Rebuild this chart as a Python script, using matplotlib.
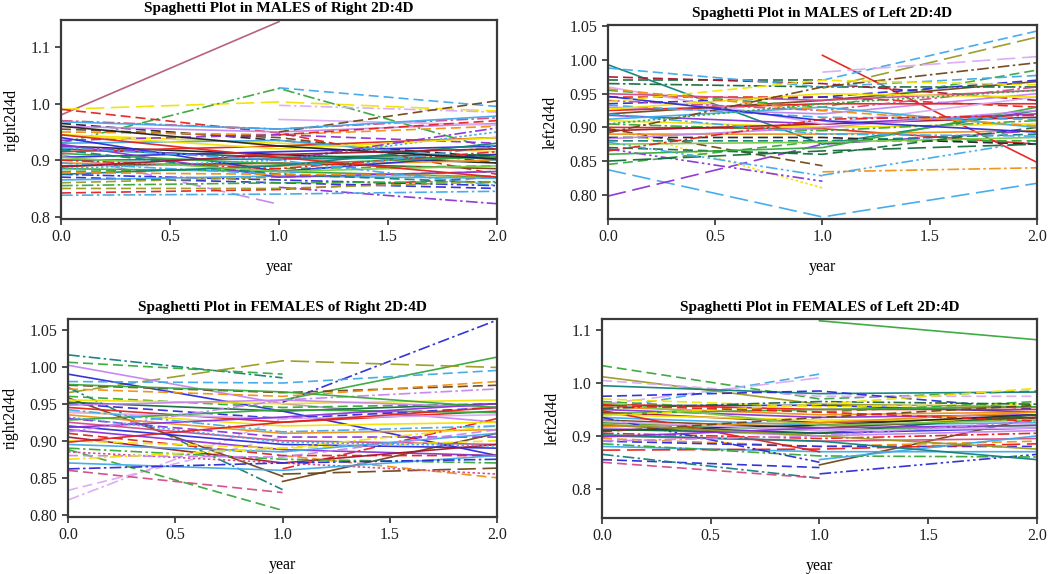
import numpy as np
import matplotlib
matplotlib.use("Agg")
import matplotlib.pyplot as plt

nan = np.nan
years = [0.0, 1.0, 2.0]

# ---- MALES, Right 2D:4D ----
mr_y0 = [0.980, 0.990, 0.930, nan, 0.990, 0.910, nan, 0.842, 0.838, 0.965, 0.955, 0.925, 0.920, 0.900,
         0.885, 0.875, 0.870, 0.865, 0.860, 0.855, 0.945, 0.950, 0.960, 0.970, 0.935, 0.915, 0.905, 0.895,
         0.890, 0.880, 0.930, nan, nan, nan, nan, 0.940, 0.928, 0.912, 0.900, 0.895, 0.885, 0.875, 0.918,
         0.945, 0.960, 0.878, 0.925, 0.905, 0.968, 0.888, 0.945, 0.922, 0.850]
mr_y1 = [1.145, 1.003, 1.027, 1.028, 0.948, 0.822, 0.852, 0.848, 0.840, 0.935, 0.940, 0.910, 0.905, 0.902,
         0.880, 0.865, 0.860, 0.872, 0.870, 0.860, 0.930, 0.945, 0.950, 0.955, 0.945, 0.925, 0.915, 0.890,
         0.895, 0.885, 0.935, 0.972, 0.997, 0.950, 0.945, 0.880, 0.870, 0.893, 0.885, 0.875, 0.900, 0.890,
         0.875, 0.920, 0.925, 0.875, 0.900, 0.880, 0.955, 0.910, 0.905, 0.900, 0.850]
mr_y2 = [nan, 0.987, 0.918, 0.995, 0.875, nan, 0.823, 0.870, 0.845, 0.905, 0.895, 0.895, 0.910, 0.905,
         0.870, 0.855, 0.850, 0.868, 0.880, 0.862, 0.915, 0.960, 0.965, 0.975, 0.930, 0.940, 0.925, 0.900,
         0.885, 0.890, 0.900, 0.962, 0.985, 1.005, 0.970, 0.910, 0.880, 0.906, 0.915, 0.925, 0.950, 0.930,
         0.860, 0.940, 0.902, 0.872, 0.957, 0.890, 0.978, 0.920, 0.870, 0.855, 0.862]
mr_col = ['m', 'y', 'g', 'lb', 'r', 'v', 'p', 'r', 'lb', 'k', 'br', 'k', 'dg', 'te',
          'g', 'b', 'b', 'lb', 'ol', 'g', 'y', 'o', 'v', 'pk', 'p', 'r', 'b', 'o',
          'br', 'g', 'lb', 'lv', 'lv', 'br', 'r', 'b', 'p', 'g', 'r', 'lb', 'lb', 'te', 'te',
          'y', 'k', 'o', 'p', 'lg', 'lb', 'dr', 'r', 'lb', 'ol']
mr_ls = ['-', 'ld', 'dd', 'd', 'd', 'ld', 'dd', 'd', 'dd', 'd', 'd', '-', '-', '-',
         '-', 'dd', 'd', '-', 'd', 'dd', '-', 'd', '-', 'dd', 'd', '-', '-', '-',
         '-', 'd', '-', '-', 'dd', 'd', 'd', '-', '-', '-', 'dd', 'dd', ':', '-', 'd',
         '-', '-', 'd', 'dd', '-', '-', '-', '-', 'dd', 'd']

# ---- MALES, Left 2D:4D ----
ml_y0 = [0.837, 0.798, nan, nan, nan, nan, nan, nan, 0.900, 0.868, 0.898, 0.970, 0.993, 0.920, 0.900,
         0.845, 0.965, 0.975, 0.955, 0.945, 0.935, 0.930, 0.925, 0.918, 0.910, 0.905, 0.895, 0.890, 0.885,
         0.880, 0.875, 0.870, 0.860, 0.850, 0.960, 0.950, 0.940, 0.933, 0.927, 0.912, 0.988, 0.883, 0.892,
         0.957, 0.946, 0.920, 0.878, 0.905, 0.865, 0.938]
ml_y1 = [0.767, 0.875, 1.007, 0.970, 0.958, 0.982, 0.834, 0.829, 0.810, 0.820, 0.843, 0.970, 0.875, 0.940,
         0.898, 0.880, 0.960, 0.965, 0.930, 0.945, 0.945, 0.920, 0.935, 0.905, 0.900, 0.895, 0.905, 0.890,
         0.885, 0.880, 0.878, 0.860, 0.870, 0.865, 0.905, 0.940, 0.925, 0.915, 0.950, 0.930, 0.960, 0.900,
         0.960, 0.925, 0.910, 0.890, 0.828, 0.935, 0.912, 0.970]
ml_y2 = [0.817, 0.895, 0.848, 1.043, 1.034, 1.005, 0.840, 0.880, nan, nan, nan, nan, 0.925, 0.968,
         0.875, 0.880, 0.960, 0.940, 0.985, 0.930, 0.970, 0.950, 0.935, 0.920, 0.905, 0.910, 0.915, 0.895,
         0.875, 0.890, 0.885, 0.900, 0.930, 0.875, 0.945, 0.955, 0.960, 0.912, 0.945, 0.900, 0.977, 0.925,
         0.996, 0.902, 0.893, 0.887, nan, 0.955, 0.918, 0.963]
ml_col = ['lb', 'p', 'r', 'lb', 'ol', 'lv', 'o', 'lb', 'y', 'p', 'br', 'dg', 'te', 'br',
          'r', 'g', 'dg', 'dr', 'g', 'r', 'b', 'v', 'r', 'p', 'y', 'g', 'dr', 'o',
          'k', 'te', 'lg', 'dg', 'g', 'dg', 'lv', 'pk', 'pk', 'lb', 'y', 'lb', 'lb', 'v',
          'br', 'o', 'b', 'lb', 'lb', 'g', 'r', 'y']
ml_ls = ['ld', 'ld', '-', 'd', 'ld', 'ld', 'dd', 'ddd', ':', 'ddd', 'd', 'd', '-', '-',
         '-', 'd', 'dd', 'd', 'd', 'd', 'd', '-', '-', '-', '-', 'dd', '-', '-',
         'd', 'd', '-', 'd', '-', 'ld', '-', '-', 'dd', 'd', '-', '-', 'd', '-',
         'dd', 'd', '-', 'dd', 'ddd', ':', 'dd', 'd']

# ---- FEMALES, Right 2D:4D ----
fr_y0 = [nan, nan, 1.016, 1.006, 0.965, 1.002, 0.820, 0.833, 0.888, 0.860, 0.972, 0.958, nan, 0.990,
         nan, nan, nan, 0.980, 0.975, 0.970, 0.960, 0.955, 0.950, 0.945, 0.940, 0.935, 0.930, 0.925,
         0.920, 0.915, 0.910, 0.905, 0.900, 0.895, 0.890, 0.885, 0.880, 0.875, 0.870, 0.862, 0.952,
         0.948, 0.938, 0.928, 0.918, 0.912, 0.942, 0.932, 0.898, 0.976]
fr_y1 = [0.952, 0.955, 0.985, 0.990, 1.008, 0.950, 0.930, 0.905, 0.806, 0.830, 0.834, 0.852, 0.845, 0.940,
         0.855, 0.880, 0.862, 0.978, 0.965, 0.960, 0.945, 0.950, 0.930, 0.925, 0.920, 0.910, 0.905, 0.900,
         0.895, 0.888, 0.880, 0.870, 0.890, 0.885, 0.875, 0.870, 0.878, 0.890, 0.860, 0.870, 0.940,
         0.955, 0.930, 0.942, 0.932, 0.955, 0.912, 0.898, 0.925, 0.966]
fr_y2 = [1.063, 1.013, nan, nan, 0.999, 0.925, nan, nan, nan, nan, nan, nan, 0.910, 0.880,
         0.863, 0.850, 0.930, 0.995, 0.975, 0.980, 0.950, 0.955, 0.945, 0.940, 0.925, 0.915, 0.905, 0.895,
         0.890, 0.880, 0.880, 0.895, 0.900, 0.910, 0.870, 0.855, 0.915, 0.920, 0.880, 0.875, 0.950,
         0.945, 0.935, 0.938, 0.950, 0.970, 0.920, 0.893, 0.945, 0.945]
fr_col = ['b', 'g', 'te', 'g', 'ol', 'v', 'lv', 'lv', 'g', 'pk', 'te', 'br', 'br', 'b',
          'br', 'o', 'r', 'lb', 'br', 'o', 'g', 'y', 'b', 'r', 'y', 'o', 'p', 'pk',
          'b', 'p', 'r', 'dr', 'y', 'lb', 'g', 'pk', 'v', 'y', 'lb', 'b', 'dg',
          'v', 'lv', 'g', 'p', 'v', 'lb', 'lb', 'r', 'g']
fr_ls = ['dd', '-', 'dd', 'd', 'ld', '-', 'dd', 'd', 'd', 'd', 'dd', '-', '-', '-',
         'ld', 'd', 'dd', 'd', 'd', 'd', 'd', '-', 'd', '-', '-', '-', 'd', '-',
         '-', '-', 'd', '-', 'd', '-', 'dd', ':', 'd', 'dd', '-', 'dd', '-',
         '-', '-', '-', '-', 'dd', 'dd', ':', '-', '-']

# ---- FEMALES, Left 2D:4D ----
fl_y0 = [nan, 1.033, 0.950, 0.960, nan, nan, 0.855, 0.865, 0.850, 1.012, 1.005, 0.995, 0.957, 0.975,
         0.970, 0.965, 0.960, 0.955, 0.950, 0.945, 0.940, 0.935, 0.930, 0.925, 0.920, 0.915, 0.910,
         0.905, 0.900, 0.895, 0.890, 0.880, 0.873, 0.885, 0.948, 0.935, nan, 0.912, 0.918, 0.928, 0.942,
         0.952, 0.938, 0.908, 0.898, 0.963, 0.922, 0.902, 0.890, 0.958]
fl_y1 = [1.118, 0.970, 1.017, 1.010, 0.845, 0.828, 0.840, 0.820, 0.820, 0.960, 0.975, 0.980, 0.958, 0.985,
         0.955, 0.945, 0.950, 0.940, 0.935, 0.925, 0.930, 0.920, 0.915, 0.910, 0.905, 0.900, 0.920,
         0.895, 0.890, 0.880, 0.880, 0.870, 0.875, 0.862, 0.870, 0.850, 0.855, 0.905, 0.925, 0.910, 0.950,
         0.965, 0.960, 0.935, 0.915, 0.920, 0.900, 0.890, 0.900, 0.945]
fl_y2 = [1.082, 0.985, nan, nan, 0.935, 0.865, nan, nan, nan, 0.955, 0.975, 0.983, 0.945, 0.950,
         0.960, 0.965, 0.950, 0.945, 0.940, 0.935, 0.930, 0.925, 0.935, 0.920, 0.915, 0.910, 0.940,
         0.905, 0.895, 0.890, 0.880, 0.870, 0.885, 0.860, nan, nan, 0.900, 0.940, 0.945, 0.915, 0.955,
         0.960, 0.990, 0.958, 0.920, 0.930, 0.875, 0.855, 0.928, 0.928]
fl_col = ['g', 'g', 'lb', 'lv', 'br', 'b', 'b', 'te', 'pk', 'ol', 'lv', 'te', 'b', 'b',
          'y', 'g', 'r', 'o', 'p', 'dr', 'y', 'lb', 'br', 'g', 'b', 'v', 'k',
          'r', 'pk', 'o', 'b', 'lb', 'r', 'g', 'r', 'b', 'lb', 'dg', 'o', 'lv', 'g',
          'dg', 'y', 'br', 'p', 'lg', 'ol', 'te', 'v', 'r']
fl_ls = ['-', 'd', 'd', 'ld', '-', 'ddd', 'd', 'dd', 'd', '-', 'd', '-', '-', 'd',
         'd', 'd', '-', '-', '-', '-', '-', '-', '-', '-', '-', '-', '-',
         'dd', '-', 'd', 'd', '-', 'ld', 'dd', '-', 'ddd', '-', '-', '-', '-', '-',
         'dd', 'd', 'd', '-', '-', '-', '-', 'dd', 'd']

PALETTE = {'r': '#e3211c', 'g': '#35a83a', 'b': '#2a2ad8', 'lb': '#3fa9ea', 'y': '#f2e200',
           'o': '#f09010', 'p': '#8a30d8', 'v': '#c484f0', 'lv': '#d9aaf6', 'br': '#6e4518',
           'dr': '#a8142a', 'te': '#12807a', 'dg': '#146a3a', 'ol': '#9a9a22', 'pk': '#d24a86',
           'k': '#222222', 'm': '#b45a78', 'lg': '#7ccb48'}
DASH = {'-': '-', 'd': (0, (6, 3)), 'ld': (0, (11, 4)), 'dd': (0, (7, 2, 1.5, 2)),
        'ddd': (0, (7, 2, 1.5, 2, 1.5, 2)), ':': (0, (1.5, 1.5))}

plt.rcParams['font.family'] = ['Liberation Serif', 'DejaVu Serif']

fig = plt.figure(figsize=(10.5, 5.74), dpi=100)

panels = [
    ("Spaghetti Plot in MALES of Right 2D:4D", "right2d4d", mr_y0, mr_y1, mr_y2, mr_col, mr_ls,
     [0.0581, 0.6185, 0.4152, 0.3467], (0.796, 1.148), [0.8, 0.9, 1.0, 1.1], '%.1f'),
    ("Spaghetti Plot in MALES of Left 2D:4D", "left2d4d", ml_y0, ml_y1, ml_y2, ml_col, ml_ls,
     [0.579, 0.6185, 0.4086, 0.338], (0.764, 1.052), [0.80, 0.85, 0.90, 0.95, 1.00, 1.05], '%.2f'),
    ("Spaghetti Plot in FEMALES of Right 2D:4D", "right2d4d", fr_y0, fr_y1, fr_y2, fr_col, fr_ls,
     [0.0648, 0.0993, 0.4086, 0.345], (0.797, 1.0645), [0.80, 0.85, 0.90, 0.95, 1.00, 1.05], '%.2f'),
    ("Spaghetti Plot in FEMALES of Left 2D:4D", "left2d4d", fl_y0, fl_y1, fl_y2, fl_col, fl_ls,
     [0.5733, 0.0976, 0.4143, 0.3467], (0.7445, 1.1214), [0.8, 0.9, 1.0, 1.1], '%.1f'),
]

for title, ylab, y0, y1, y2, cols, lss, rect, ylim, yt, fmt in panels:
    ax = fig.add_axes(rect)
    for i in range(len(y0)):
        ys = [y0[i], y1[i], y2[i]]
        ax.plot(years, ys, color=PALETTE[cols[i]], linestyle=DASH[lss[i]], linewidth=1.2, alpha=0.95)
    ax.set_xlim(0, 2)
    ax.set_ylim(*ylim)
    ax.set_xticks([0.0, 0.5, 1.0, 1.5, 2.0])
    ax.set_xticklabels(['0.0', '0.5', '1.0', '1.5', '2.0'])
    ax.set_yticks(yt)
    ax.set_yticklabels([fmt % v for v in yt])
    ax.tick_params(direction='out', length=4, width=1.2, labelsize=11.5, colors='#303030',
                   labelcolor='#202020')
    for s in ax.spines.values():
        s.set_linewidth(1.6)
        s.set_color('#3a3a3a')
    ax.set_title(title, fontsize=11, fontweight='bold', pad=6)
    ax.set_xlabel('year', fontsize=11.5, labelpad=10)
    ax.set_ylabel(ylab, fontsize=11.5, labelpad=8)

fig.savefig('out.png', dpi=100)
